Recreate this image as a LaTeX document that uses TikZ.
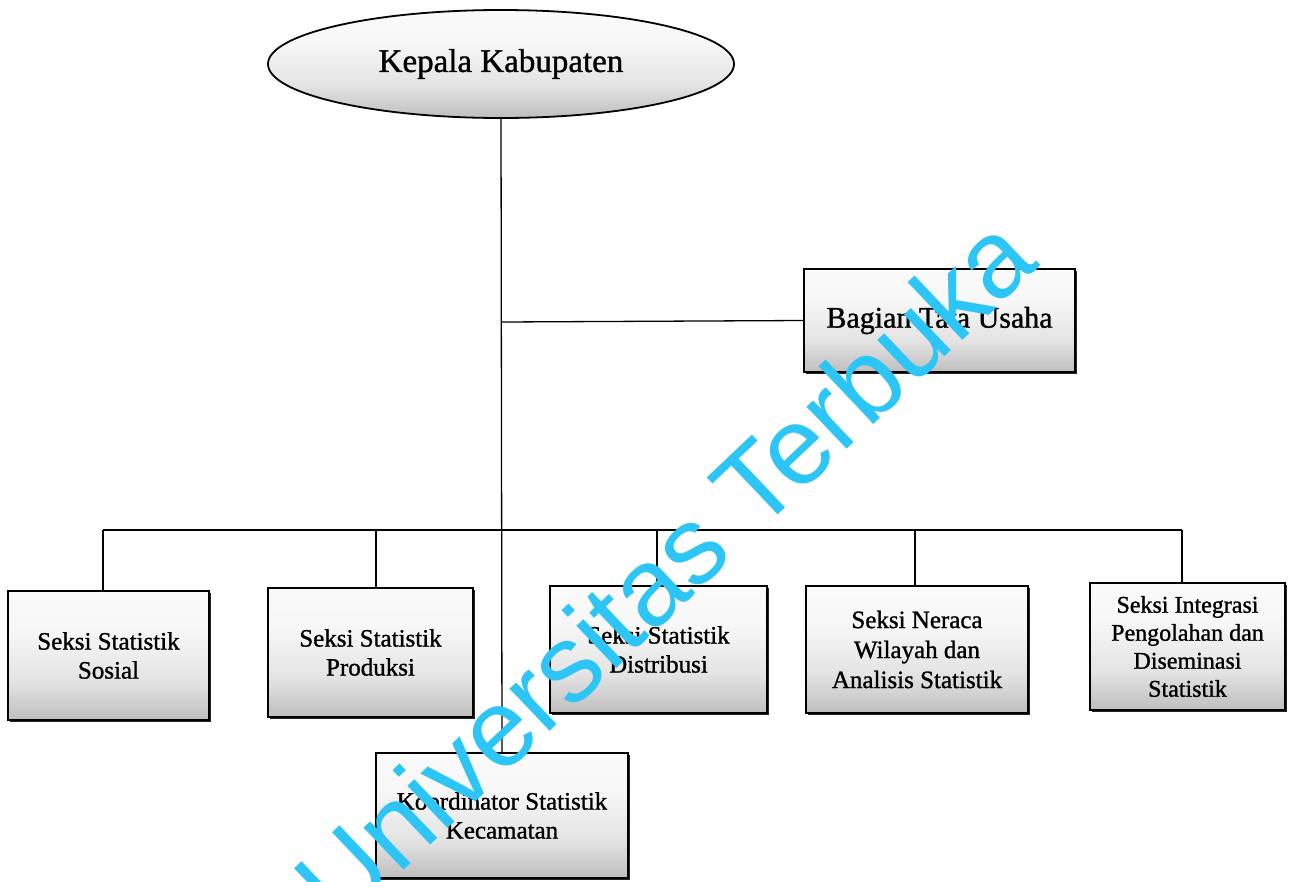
\documentclass[tikz,border=0pt]{standalone}
\usepackage{fontspec}
\setmainfont{Liberation Serif}[FakeBold=0.9]
\newfontfamily\heavyserif{Liberation Serif}[FakeBold=1.1]
\newfontfamily\wmfont{Liberation Sans}
\usetikzlibrary{shapes.geometric,shadows}

% grey at the bottom fading to white at the top
\pgfdeclareverticalshading{boxshade}{100bp}{%
  color(0bp)=(black!50); color(18bp)=(black!32); color(40bp)=(black!11);
  color(60bp)=(black!3); color(100bp)=(white)}

\definecolor{wmcyan}{RGB}{44,197,245}

\tikzset{
  unitbox/.style={draw=black, line width=1.6pt, shading=boxshade,
    drop shadow={shadow xshift=1.5pt, shadow yshift=-1.8pt, fill=black!85, opacity=1},
    inner sep=2pt, align=center, font=\heavyserif\fontsize{25}{29}\selectfont},
  headshape/.style={ellipse, draw=black, line width=1.8pt, shading=boxshade,
    inner sep=0pt, minimum width=466pt, minimum height=108pt,
    font=\heavyserif\fontsize{33}{38}\selectfont},
  link/.style={draw=black, line width=1.3pt},
  stamp/.style={text=wmcyan, font=\wmfont\fontsize{110}{112}\selectfont, rotate=43.5}
}

\begin{document}
\begin{tikzpicture}[x=1pt, y=-1pt]
  \useasboundingbox (0,0) rectangle (1289,881);
  \fill[white] (0,0) rectangle (1289,881);

  % head of the office
  \node[headshape] (kk) at (501,64) {\raisebox{-6pt}{Kepala Kabupaten}};

  % units
  \node[unitbox, minimum width=271pt, minimum height=103pt, font=\heavyserif\fontsize{30}{34}\selectfont]
    (tu) at (939.5,320.5) {\raisebox{-5pt}{Bagian Tata Usaha}};
  \node[unitbox, minimum width=201pt, minimum height=129pt] (sos)  at (108.5,655.5) {Seksi Statistik\\Sosial};
  \node[unitbox, minimum width=205pt, minimum height=129pt] (prod) at (370.5,652.5) {Seksi Statistik\\Produksi};
  \node[unitbox, minimum width=217pt, minimum height=127pt] (dist) at (658.5,649.5) {Seksi Statistik\\Distribusi};
  \node[unitbox, minimum width=222pt, minimum height=127pt, font=\heavyserif\fontsize{25}{30}\selectfont]
    (ner)  at (917,649.5) {Seksi Neraca\\Wilayah dan\\Analisis Statistik};
  \node[unitbox, minimum width=195pt, minimum height=127pt, font=\heavyserif\fontsize{24}{28}\selectfont]
    (integ) at (1187.5,646.5) {Seksi Integrasi\\Pengolahan dan\\Diseminasi\\Statistik};
  \node[unitbox, minimum width=252pt, minimum height=125pt] (koord) at (502,815.5) {Koordinator Statistik\\Kecamatan};

  % connection points
  \coordinate (jtu) at (502,322);
  \coordinate (b1) at (103,530);
  \coordinate (b2) at (376,530);
  \coordinate (b3) at (657,530);
  \coordinate (b4) at (915,530);
  \coordinate (b5) at (1182,530);

  % connectors
  \draw[link] (kk.south) -- (koord.north);
  \draw[link] (jtu) -- (tu.west);
  \draw[link] (b1) -- (b5);
  \draw[link] (b1) -- (b1 |- sos.north);
  \draw[link] (b2) -- (b2 |- prod.north);
  \draw[link] (b3) -- (b3 |- dist.north);
  \draw[link] (b4) -- (b4 |- ner.north);
  \draw[link] (b5) -- (b5 |- integ.north);

  % watermark
  \node[stamp] (wm) at (664,569) {Universitas Terbuka};
\end{tikzpicture}
\end{document}
